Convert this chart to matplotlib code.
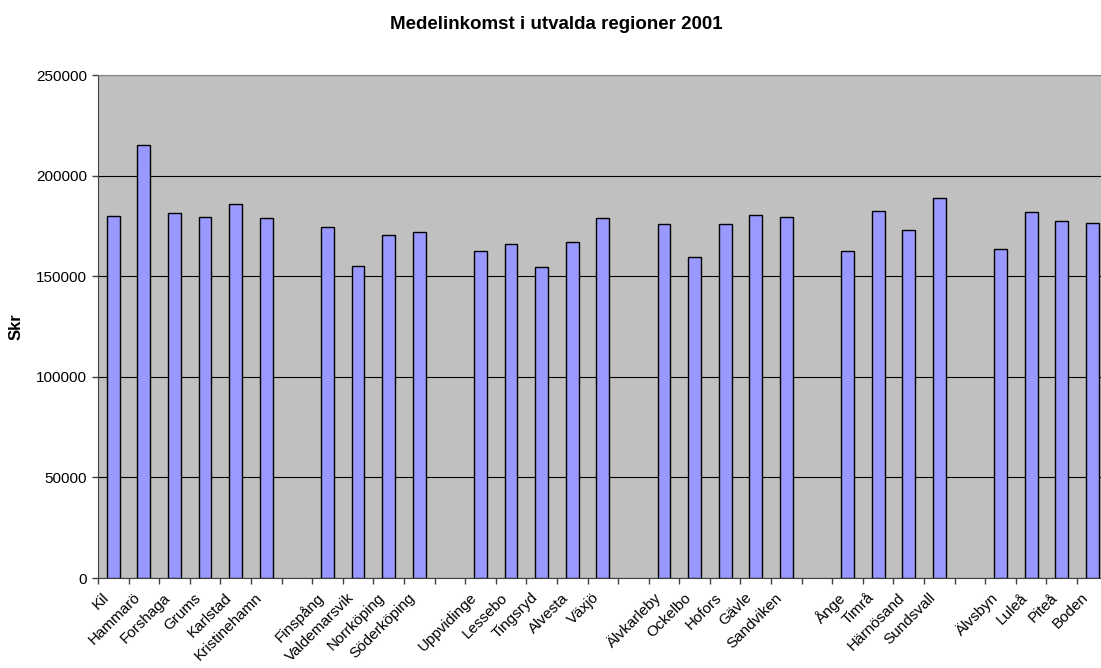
import matplotlib.pyplot as plt
import matplotlib as mpl
import matplotlib.transforms as mtrans
import numpy as np

mpl.rc('font', family=['Liberation Sans', 'DejaVu Sans'])

# Data, '' = empty gap category in the original chart
names = ['Kil', 'Hammarö', 'Forshaga', 'Grums', 'Karlstad', 'Kristinehamn', '',
         'Finspång', 'Valdemarsvik', 'Norrköping', 'Söderköping', '',
         'Uppvidinge', 'Lessebo', 'Tingsryd', 'Alvesta', 'Växjö', '',
         'Älvkarleby', 'Ockelbo', 'Hofors', 'Gävle', 'Sandviken', '',
         'Ånge', 'Timrå', 'Härnösand', 'Sundsvall', '',
         'Älvsbyn', 'Luleå', 'Piteå', 'Boden']
income = [180000, 215000, 181400, 179500, 185900, 178700, None,
          174300, 155300, 170500, 171800, None,
          162700, 166200, 154800, 166800, 179000, None,
          176200, 159500, 176200, 180500, 179200, None,
          162300, 182300, 173200, 188700, None,
          163500, 181800, 177200, 176300]

fig = plt.figure(figsize=(11.01, 6.68), dpi=100)
ax = fig.add_axes([0.089, 0.1347, 0.917, 0.753])

pos = [i for i, v in enumerate(income) if v is not None]
vals = [v for v in income if v is not None]
ax.bar(pos, vals, width=0.42, color='#9999FF', edgecolor='black', linewidth=1, zorder=3)

ax.set_xlim(-0.5, len(names) - 0.5)
ax.set_ylim(0, 250000)
ax.set_facecolor('#C0C0C0')

ax.set_yticks(np.arange(0, 250001, 50000))
ax.yaxis.grid(True, color='black', linewidth=0.8, zorder=1)
ax.tick_params(axis='y', labelsize=11, length=4, width=1, color='#404040', pad=4)

# ticks between categories, labels at centers
ax.set_xticks(np.arange(-0.5, len(names), 1))
ax.set_xticklabels([])
ax.tick_params(axis='x', which='major', length=4, width=1, color='#404040')
ax.set_xticks(np.arange(len(names)), minor=True)
ax.set_xticklabels(names, minor=True, rotation=45, ha='right', rotation_mode='anchor', fontsize=11)
ax.tick_params(axis='x', which='minor', length=0, pad=9)
shift = mtrans.ScaledTranslation(-0.11, 0.0, fig.dpi_scale_trans)
for lab in ax.get_xticklabels(minor=True):
    lab.set_transform(lab.get_transform() + shift)

for s in ['left', 'bottom']:
    ax.spines[s].set_color('#404040')
for s in ['top', 'right']:
    ax.spines[s].set_color('#808080')

ax.set_ylabel('Skr', fontsize=12, fontweight='bold', labelpad=9)
fig.text(0.505, 0.963, 'Medelinkomst i utvalda regioner 2001', ha='center', va='center',
         fontsize=13.5, fontweight='bold')

fig.savefig('out.png', dpi=100)
